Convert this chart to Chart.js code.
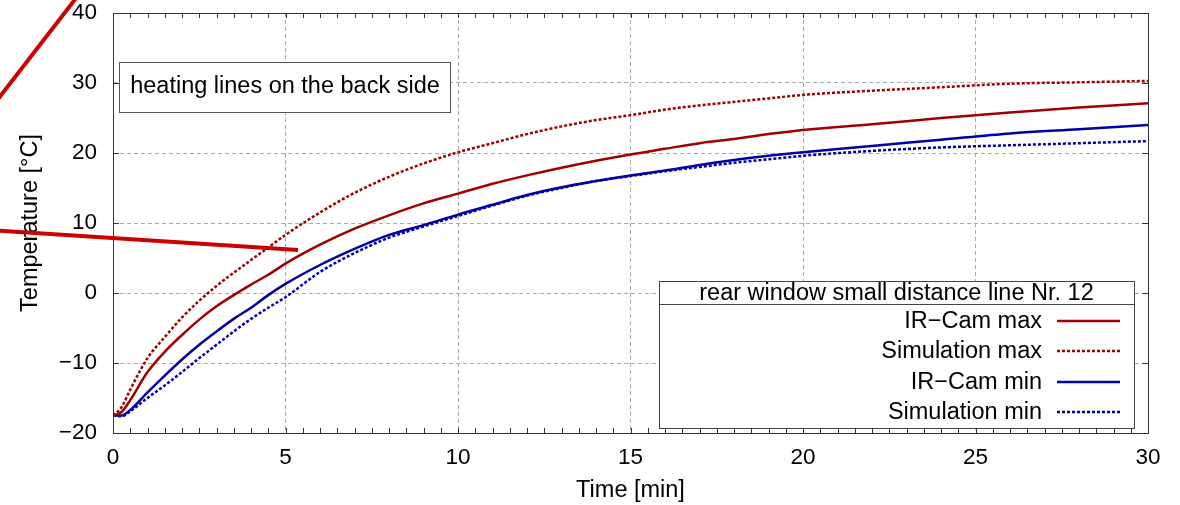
<!DOCTYPE html>
<html>
<head>
<meta charset="utf-8">
<script src="https://cdn.jsdelivr.net/npm/chart.js@4.4.0/dist/chart.umd.min.js"></script>
<style>
  html, body { margin: 0; padding: 0; background: #fff; }
  #wrap { width: 1180px; height: 505px; position: relative; }
</style>
</head>
<body>
<div id="wrap"><canvas id="c" width="1180" height="505"></canvas></div>
<script>
// ---- data (time in minutes, temperature in °C) ----
const times      = [0, 0.25, 0.5, 1, 1.5, 2, 2.5, 3, 3.5, 4, 4.5, 5, 6, 7, 8, 9, 10, 11, 12, 13, 14, 15, 16, 17, 18, 19, 20, 22, 24, 26, 28, 30];
const irCamMax   = [-17.5, -17.0, -15.3, -11.3, -8.4, -6.0, -3.8, -1.9, -0.3, 1.2, 2.6, 4.2, 6.9, 9.2, 11.1, 12.8, 14.2, 15.6, 16.8, 17.9, 18.9, 19.8, 20.6, 21.4, 22.0, 22.7, 23.3, 24.1, 25.0, 25.8, 26.5, 27.1];
const simMax     = [-17.5, -16.3, -13.8, -9.3, -6.3, -3.5, -1.1, 1.0, 2.9, 4.7, 6.5, 8.3, 11.5, 14.3, 16.6, 18.5, 20.1, 21.4, 22.7, 23.8, 24.7, 25.4, 26.2, 26.8, 27.3, 27.8, 28.3, 28.9, 29.4, 29.9, 30.1, 30.3];
const irCamMin   = [-17.5, -17.5, -16.7, -14.2, -11.8, -9.5, -7.4, -5.5, -3.7, -2.1, -0.3, 1.3, 4.0, 6.3, 8.3, 9.7, 11.2, 12.6, 14.0, 15.1, 16.0, 16.8, 17.5, 18.3, 19.0, 19.6, 20.1, 21.0, 21.9, 22.8, 23.4, 24.0];
const simMin     = [-17.5, -17.6, -16.9, -15.0, -13.2, -11.3, -9.3, -7.4, -5.5, -3.7, -2.1, -0.6, 3.0, 5.7, 7.9, 9.5, 11.0, 12.5, 13.9, 15.0, 16.0, 16.7, 17.4, 18.0, 18.6, 19.1, 19.6, 20.3, 20.8, 21.1, 21.4, 21.7];
const seriesNames = ['IR\u2212Cam max', 'Simulation max', 'IR\u2212Cam min', 'Simulation min'];
const xTicks = [0, 5, 10, 15, 20, 25, 30];
const yTicks = [-20, -10, 0, 10, 20, 30, 40];
const legendTitle = 'rear window small distance line Nr. 12';
const boxLabel = 'heating lines on the back side';
const xTitle = 'Time [min]';
const yTitle = 'Temperature [\u00b0C]';

const RED = 'rgb(160,0,0)';
const BLUE = 'rgb(0,0,165)';
const FONT = '"Liberation Sans", Arial, sans-serif';

function pts(arr) { return times.map((t, i) => ({ x: t, y: arr[i] })); }

const seriesData = [irCamMax, simMax, irCamMin, simMin];
const seriesColor = [RED, RED, BLUE, BLUE];
const seriesDash = [[], [3, 2], [], [3, 2]];

const datasets = seriesData.map((d, i) => ({
  label: seriesNames[i],
  data: pts(d),
  borderColor: seriesColor[i],
  borderWidth: 2.5,
  borderDash: seriesDash[i],
  pointRadius: 0,
  fill: false,
  cubicInterpolationMode: 'monotone'
}));

const fmt = v => (v < 0 ? '\u2212' + Math.abs(v) : String(v));

const decor = {
  id: 'decor',
  afterDatasetsDraw(chart) {
    const ctx = chart.ctx;
    const a = chart.chartArea;
    const xs = chart.scales.x, ys = chart.scales.y;
    ctx.save();
    // frame
    ctx.strokeStyle = '#333';
    ctx.lineWidth = 1;
    ctx.setLineDash([]);
    ctx.strokeRect(Math.round(a.left) + 0.5, Math.round(a.top) + 0.5, Math.round(a.right - a.left), Math.round(a.bottom - a.top));
    // x ticks (minor every 0.5), inward top and bottom
    ctx.beginPath();
    for (let v = 0; v <= 30.001; v += 0.5) {
      const px = Math.round(xs.getPixelForValue(v)) + 0.5;
      ctx.moveTo(px, a.bottom); ctx.lineTo(px, a.bottom - 5);
      ctx.moveTo(px, a.top); ctx.lineTo(px, a.top + 5);
    }
    yTicks.forEach(v => {
      const py = Math.round(ys.getPixelForValue(v)) + 0.5;
      ctx.moveTo(a.left, py); ctx.lineTo(a.left + 6, py);
      ctx.moveTo(a.right, py); ctx.lineTo(a.right - 6, py);
    });
    ctx.stroke();

    // heading box
    ctx.fillStyle = '#fff';
    ctx.fillRect(119, 62, 331, 50);
    ctx.strokeStyle = '#555';
    ctx.strokeRect(119.5, 62.5, 331, 50);
    ctx.fillStyle = '#000';
    ctx.font = '23.5px ' + FONT;
    ctx.textAlign = 'center';
    ctx.textBaseline = 'middle';
    ctx.fillText(boxLabel, 285, 87);

    // legend box
    const L = 659, T = 281, R = 1134, B = 428;
    ctx.fillStyle = '#fff';
    ctx.fillRect(L, T, R - L, B - T);
    ctx.strokeStyle = '#444';
    ctx.strokeRect(L + 0.5, T + 0.5, R - L, B - T);
    ctx.beginPath();
    ctx.moveTo(L, 304.5); ctx.lineTo(R, 304.5);
    ctx.stroke();
    ctx.fillStyle = '#000';
    ctx.font = '23.5px ' + FONT;
    ctx.textAlign = 'center';
    ctx.fillText(legendTitle, (L + R) / 2, 294);
    const rowY = [322, 352, 383, 413];
    chart.data.datasets.forEach((ds, i) => {
      ctx.fillStyle = '#000';
      ctx.textAlign = 'right';
      ctx.fillText(ds.label, 1042, rowY[i]);
      ctx.strokeStyle = ds.borderColor;
      ctx.lineWidth = 2.5;
      ctx.setLineDash(ds.borderDash);
      ctx.beginPath();
      ctx.moveTo(1057, rowY[i] - 1); ctx.lineTo(1120, rowY[i] - 1);
      ctx.stroke();
      ctx.setLineDash([]);
    });
    ctx.restore();
  },
  afterDraw(chart) {
    const ctx = chart.ctx;
    ctx.save();
    ctx.strokeStyle = 'rgb(204,0,0)';
    ctx.lineWidth = 4;
    ctx.lineCap = 'butt';
    ctx.beginPath();
    ctx.moveTo(80, -7); ctx.lineTo(-5, 103);
    ctx.moveTo(-2, 230.5); ctx.lineTo(298, 250);
    ctx.stroke();
    ctx.restore();
  }
};

new Chart(document.getElementById('c'), {
  type: 'line',
  data: { datasets },
  plugins: [decor],
  options: {
    responsive: false,
    animation: false,
    events: [],
    layout: { padding: { left: 0, right: 32, top: 13, bottom: 0 } },
    plugins: { legend: { display: false }, tooltip: { enabled: false } },
    scales: {
      x: {
        type: 'linear',
        min: 0, max: 30,
        afterBuildTicks: s => { s.ticks = xTicks.map(v => ({ value: v })); },
        afterFit: s => { s.height = 72; s.paddingLeft = 0; s.paddingRight = 0; },
        ticks: { font: { family: FONT, size: 22.5 }, color: '#000', padding: 11, maxRotation: 0, callback: v => fmt(v) },
        grid: {
          drawTicks: false,
          color: c => (c.tick && (c.tick.value === 0 || c.tick.value === 30)) ? 'rgba(0,0,0,0)' : '#a8a8a8',
          lineWidth: 1
        },
        border: { display: false, dash: [4, 3] },
        title: { display: true, text: xTitle, font: { family: FONT, size: 23.5 }, color: '#000', padding: { top: 0, bottom: 0 } }
      },
      y: {
        type: 'linear',
        min: -20, max: 40,
        afterBuildTicks: s => { s.ticks = yTicks.map(v => ({ value: v })); },
        afterFit: s => { s.width = 113; s.paddingTop = 0; s.paddingBottom = 0; },
        ticks: { font: { family: FONT, size: 22.5 }, color: '#000', padding: 16, callback: v => fmt(v) },
        grid: {
          drawTicks: false,
          color: c => (c.tick && (c.tick.value === -20 || c.tick.value === 40)) ? 'rgba(0,0,0,0)' : '#a8a8a8',
          lineWidth: 1
        },
        border: { display: false, dash: [4, 3] },
        title: { display: true, text: yTitle, font: { family: FONT, size: 23.5 }, color: '#000', padding: { top: 16, bottom: 0 } }
      }
    }
  }
});
</script>
</body>
</html>
